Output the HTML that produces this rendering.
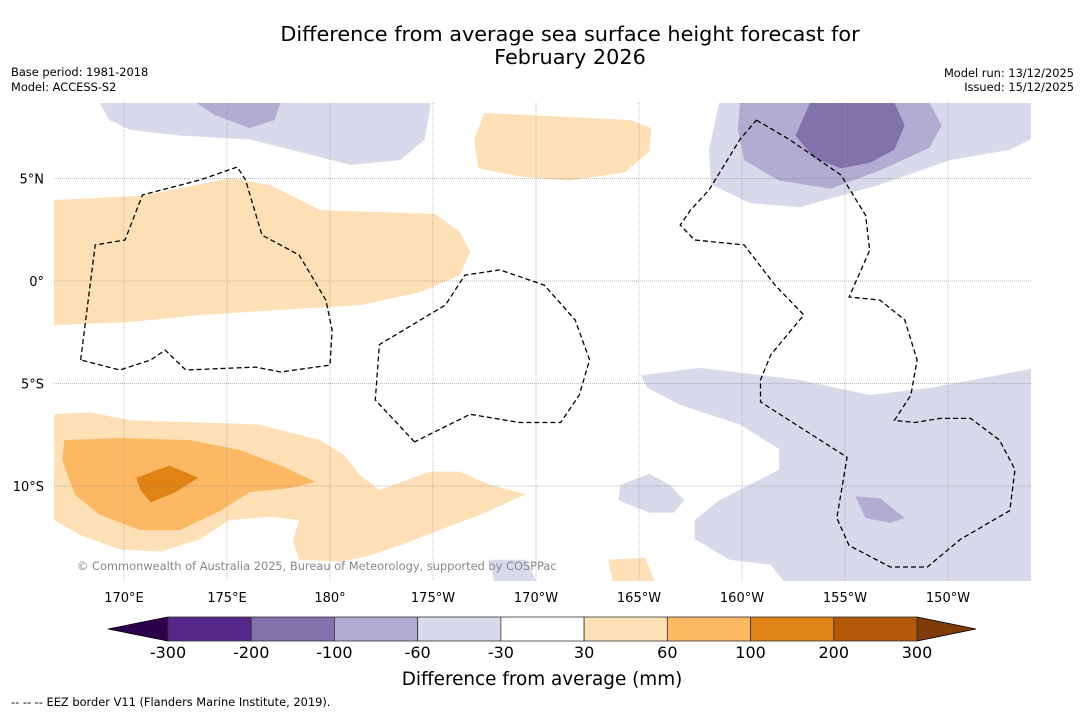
<!DOCTYPE html>
<html><head><meta charset="utf-8">
<style>
html,body{margin:0;padding:0;background:#fff;}
body{width:1085px;height:713px;overflow:hidden;font-family:"DejaVu Sans","Liberation Sans",sans-serif;}
svg text{font-family:"DejaVu Sans","Liberation Sans",sans-serif;}
</style></head>
<body>
<svg id="chart" width="1085" height="713" xmlns="http://www.w3.org/2000/svg">
<defs><clipPath id="mapclip"><rect x="54" y="103" width="977" height="478"/></clipPath></defs>
<text x="570" y="41" font-size="20.8" text-anchor="middle">Difference from average sea surface height forecast for</text>
<text x="570" y="64" font-size="20.8" text-anchor="middle">February 2026</text>
<text x="11" y="76" font-size="11.4">Base period: 1981-2018</text>
<text x="11" y="91" font-size="11.4">Model: ACCESS-S2</text>
<text x="1074" y="77" font-size="11.4" text-anchor="end">Model run: 13/12/2025</text>
<text x="1074" y="91" font-size="11.4" text-anchor="end">Issued: 15/12/2025</text>
<g id="map" clip-path="url(#mapclip)"></g>
<g id="grid"></g>
<g id="eez" clip-path="url(#mapclip)"></g>
<text x="77" y="570" font-size="11.4" fill="#888">© Commonwealth of Australia 2025, Bureau of Meteorology, supported by COSPPac</text>
<g id="ticks"></g>
<g id="cbar"></g>
<text x="542" y="685" font-size="18.4" text-anchor="middle">Difference from average (mm)</text>
<text x="11" y="706" font-size="11.4">--  --  -- EEZ border V11 (Flanders Marine Institute, 2019).</text>
</svg>
<script>
const lonTicks=[170,175,180,185,190,195,200,205,210];
const lonLabels=["170°E","175°E","180°","175°W","170°W","165°W","160°W","155°W","150°W"];
const latTicks=[5,0,-5,-10];
const latLabels=["5°N","0°","5°S","10°S"];
const cbLevels=["-300","-200","-100","-60","-30","30","60","100","200","300"];
const cbColors=["#542788","#8073ac","#b2abd2","#d8daeb","#ffffff","#fee0b6","#fdb863","#e08214","#b35806"];
const cbExtend=["#2d004b","#7f3b08"];
const c1Lon=[166.6,170.8,175.2,177.1,179.5,185.1,186.3,186.8,186.3,184.4,181.5,177.6,173.7,170.3,166.6];
const c1Lat=[3.95,4.15,5.02,4.68,3.46,3.27,2.39,1.41,0.29,-0.54,-1.17,-1.41,-1.66,-2.0,-2.15];
const c2Lon=[187.5,194.6,195.6,195.5,194.3,191.6,189.2,187.2,187.0];
const c2Lat=[8.2,7.85,7.46,6.3,5.3,4.9,5.1,5.5,6.9];
const c3Lon=[168.8,184.9,184.6,183.4,181.0,178.5,176.1,172.7,170.3,169.3];
const c3Lat=[8.7,8.7,6.9,5.9,5.66,6.3,6.9,7.1,7.37,7.85];
const c4Lon=[173.5,177.6,177.3,176.1,174.4];
const c4Lat=[8.7,8.7,7.85,7.46,8.1];
const c5Lon=[198.9,214.5,214.0,213.0,210.1,206.7,202.8,200.4,198.5,198.4];
const c5Lat=[8.7,8.7,6.9,6.4,5.9,4.7,3.6,3.8,4.7,6.4];
const c6Lon=[199.9,209.1,209.7,209.1,206.7,204.3,201.8,200.1,199.8];
const c6Lat=[8.7,8.7,7.6,6.5,5.4,4.5,4.9,5.9,7.4];
const c7Lon=[203.3,207.4,207.9,207.4,206.2,204.8,203.5,202.6];
const c7Lat=[8.7,8.7,7.6,6.4,5.76,5.5,6.0,7.1];
const c8Lon=[195.1,198.0,202.8,206.2,209.1,214.5,214.5,202.3,201.4,199.4,197.7,197.7,198.9,201.8,201.8,199.9,197.0,195.4];
const c8Lat=[-4.6,-4.24,-4.83,-5.56,-5.22,-4.2,-15,-15,-13.85,-13.6,-12.6,-11.66,-10.7,-9.2,-8.2,-7.0,-6.05,-5.2];
const c9Lon=[194.1,195.5,196.5,197.2,196.7,195.5,194.0];
const c9Lat=[-9.95,-9.4,-9.95,-10.7,-11.3,-11.3,-10.7];
const c10Lon=[205.5,206.7,207.9,207.2,206.0];
const c10Lat=[-10.5,-10.6,-11.56,-11.8,-11.56];
const c11Lon=[187.8,189.5,190.2,188.0];
const c11Lat=[-13.6,-13.6,-15,-15];
const c12Lon=[166.6,168.35,170.3,173.7,176.6,179.5,180.7,181.5,182.4,184.85,186.3,187.8,189.5,187.3,185.3,183.4,181.9,180.5,178.5,178.2,178.5,177.1,175.1,173.7,171.75,169.8,167.9,166.6];
const c12Lat=[-6.5,-6.4,-6.8,-6.9,-7.0,-7.76,-8.5,-9.5,-10.2,-9.3,-9.3,-9.95,-10.4,-11.4,-12.15,-12.9,-13.4,-13.7,-13.6,-12.7,-11.66,-11.5,-11.66,-12.6,-13.2,-13.1,-12.4,-11.66];
const c13Lon=[167.1,169.8,173.2,175.6,177.6,179.3,178.1,176.1,174.7,172.7,170.8,168.8,167.6,167.0];
const c13Lat=[-7.76,-7.66,-7.76,-8.24,-9.0,-9.8,-10.1,-10.3,-11.2,-12.15,-12.15,-11.4,-10.4,-8.7];
const c14Lon=[170.6,172.2,173.6,172.5,171.3,170.8];
const c14Lat=[-9.6,-9.0,-9.6,-10.3,-10.8,-10.2];
const c15Lon=[193.5,195.3,195.9,193.8];
const c15Lat=[-13.6,-13.5,-15,-15];
const contours=[[5,c1Lon,c1Lat],[5,c2Lon,c2Lat],[3,c3Lon,c3Lat],[2,c4Lon,c4Lat],[3,c5Lon,c5Lat],[2,c6Lon,c6Lat],[1,c7Lon,c7Lat],[3,c8Lon,c8Lat],[3,c9Lon,c9Lat],[2,c10Lon,c10Lat],[3,c11Lon,c11Lat],[5,c12Lon,c12Lat],[6,c13Lon,c13Lat],[7,c14Lon,c14Lat],[5,c15Lon,c15Lat]];
const e1Lon=[167.9,168.6,170.05,170.9,173.7,175.5,175.9,176.7,178.5,179.8,180.1,180.0,177.6,176.4,173.0,172.0,171.3,169.8,167.9];
const e1Lat=[-3.85,1.76,2.0,4.2,4.93,5.56,4.93,2.24,1.27,-0.93,-2.4,-4.1,-4.44,-4.2,-4.34,-3.37,-3.85,-4.34,-3.85];
const e2Lon=[184.1,182.2,182.4,185.6,186.55,188.25,190.4,191.9,192.6,192.1,191.2,189.2,186.8,184.1];
const e2Lat=[-7.85,-5.8,-3.1,-1.17,0.29,0.54,-0.2,-1.9,-3.85,-5.56,-6.9,-6.9,-6.5,-7.85];
const e3Lon=[200.7,202.3,204.8,206.0,206.2,205.2,206.7,207.9,208.5,208.2,207.4,208.4,209.6,211.1,212.5,213.25,213.0,210.6,209.0,207.2,205.2,204.6,205.1,200.9,200.9,201.4,203.0,201.6,200.1,197.7,197.0,197.5,198.4,199.9,200.7];
const e3Lat=[7.85,6.9,5.17,3.2,1.5,-0.78,-0.93,-1.9,-3.85,-5.56,-6.8,-6.9,-6.7,-6.7,-7.76,-9.2,-11.2,-12.6,-13.95,-13.95,-12.9,-11.56,-8.6,-5.9,-4.83,-3.6,-1.66,-0.2,1.76,2.0,2.73,3.46,4.44,6.9,7.85];
const eez=[[e1Lon,e1Lat],[e2Lon,e2Lat],[e3Lon,e3Lat]];

const NS='http://www.w3.org/2000/svg';
function X(lon){return 124+(lon-170)*20.6;}
function Y(lat){return 281-lat*20.5;}
function mk(tag,attrs,parent){const e=document.createElementNS(NS,tag);for(const k in attrs)e.setAttribute(k,attrs[k]);parent.appendChild(e);return e;}
const map=document.getElementById('map');
contours.forEach((c,i)=>{
  const pts=c[1].map((lo,j)=>X(lo).toFixed(1)+','+Y(c[2][j]).toFixed(1)).join(' ');
  const p=mk('polygon',{points:pts,fill:cbColors[c[0]],stroke:'none'},map);
  
  
});
const grid=document.getElementById('grid');
const ticks=document.getElementById('ticks');
lonTicks.forEach((lo,i)=>{
  const l=mk('line',{x1:X(lo),x2:X(lo),y1:103,y2:581,stroke:'#999','stroke-width':0.6,'stroke-dasharray':'1,1'},grid);
  
  
  const t=mk('text',{x:X(lo),y:602,'font-size':13,'text-anchor':'middle'},ticks);
  t.textContent=lonLabels[i];
  
  
});
latTicks.forEach((la,i)=>{
  const l=mk('line',{x1:54,x2:1031,y1:Y(la),y2:Y(la),stroke:'#777','stroke-width':0.6,'stroke-dasharray':'1,1'},grid);
  
  
  const t=mk('text',{x:44,y:Y(la)+5,'font-size':13,'text-anchor':'end'},ticks);
  t.textContent=latLabels[i];
  
  
});
const eg=document.getElementById('eez');
eez.forEach(e=>{
  const pts=e[0].map((lo,j)=>X(lo).toFixed(1)+','+Y(e[1][j]).toFixed(1)).join(' ');
  const p=mk('polyline',{points:pts,fill:'none',stroke:'#000','stroke-width':1.3,'stroke-dasharray':'5,3'},eg);
  
  
});
const cb=document.getElementById('cbar');
const x0=168,x1=917,cy0=617,cy1=641,w=(x1-x0)/cbColors.length;
const lt=mk('polygon',{points:`108,629 ${x0},${cy0} ${x0},${cy1}`,fill:cbExtend[0],stroke:'#000','stroke-width':0.8},cb);


const rt=mk('polygon',{points:`976,629 ${x1},${cy0} ${x1},${cy1}`,fill:cbExtend[1],stroke:'#000','stroke-width':0.8},cb);


cbColors.forEach((c,i)=>{
  const r=mk('rect',{x:x0+i*w,y:cy0,width:w,height:cy1-cy0,fill:c,stroke:'#333','stroke-width':0.8},cb);
  
  
});
cbLevels.forEach((v,i)=>{
  const t=mk('text',{x:x0+i*w,y:658,'font-size':16,'text-anchor':'middle'},cb);
  t.textContent=v;
  
  
});
</script>
</body></html>
